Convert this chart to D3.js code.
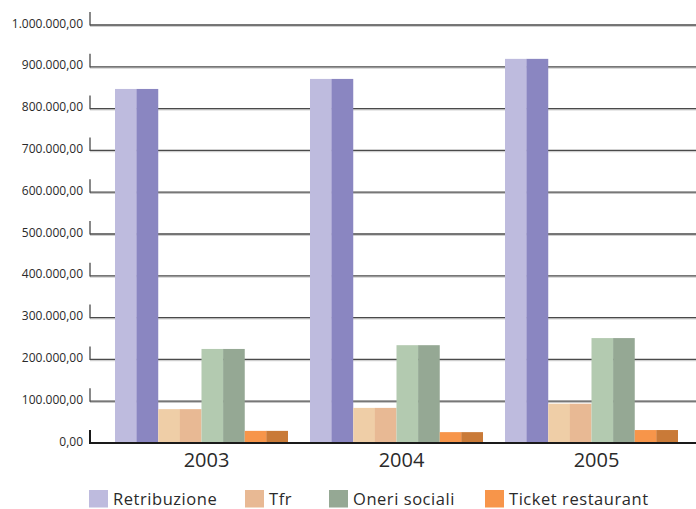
<!DOCTYPE html>
<html>
<head>
<meta charset="utf-8">
<script src="https://cdn.jsdelivr.net/npm/d3@7"></script>
<style>
  html, body { margin: 0; padding: 0; background: #fff; }
  svg { display: block; font-family: "Open Sans", "Noto Sans", sans-serif; }
</style>
</head>
<body>
<svg id="chart" width="696" height="509"></svg>
<script>
// Costo del personale per anno (euro)
const years = ["2003", "2004", "2005"];
const seriesNames = ["Retribuzione", "Tfr", "Oneri sociali", "Ticket restaurant"];
const retribuzione = [847000, 871000, 919000];
const tfr = [81000, 84000, 94000];
const oneriSociali = [225000, 234000, 251000];
const ticketRestaurant = [29000, 26000, 31000];
const yTickValues = [0, 100000, 200000, 300000, 400000, 500000, 600000, 700000, 800000, 900000, 1000000];

const seriesValues = [retribuzione, tfr, oneriSociali, ticketRestaurant];
// front face / side face of each bar
const frontColors = ["#bebbde", "#efcea7", "#b3cab0", "#f7954a"];
const sideColors  = ["#8a86c1", "#e8b994", "#95a894", "#c97a38"];
const legendColors = ["#bebbde", "#e8b994", "#95a894", "#f7954a"];

const svg = d3.select("#chart");
const W = 696;
const plotLeft = 90;

const itLocale = d3.formatLocale({ decimal: ",", thousands: ".", grouping: [3], currency: ["€", ""] });
const fmt = itLocale.format(",.2f");

const y = d3.scaleLinear().domain([0, 1000000]).range([443, 25]);

const x0 = d3.scaleBand().domain(years).range([104, 689])
  .paddingInner(22 / 195).paddingOuter(11 / 195);
const x1 = d3.scaleBand().domain(seriesNames).range([0, x0.bandwidth()]).padding(0);

// gridlines with a soft light edge under each
const grid = svg.append("g");
yTickValues.filter(v => v > 0).forEach(v => {
  const yy = y(v);
  grid.append("line").attr("x1", plotLeft).attr("x2", W).attr("y1", yy + 1.3).attr("y2", yy + 1.3)
    .attr("stroke", "#c4c4c4").attr("stroke-width", 1);
  grid.append("line").attr("x1", plotLeft).attr("x2", W).attr("y1", yy).attr("y2", yy)
    .attr("stroke", "#4a4a4a").attr("stroke-width", 1.3);
  grid.append("line").attr("x1", plotLeft).attr("x2", plotLeft).attr("y1", yy - 13).attr("y2", yy + 0.6)
    .attr("stroke", "#4a4a4a").attr("stroke-width", 1.3);
});

// tick labels
svg.append("g").selectAll("text").data(yTickValues).join("text")
  .attr("x", 83).attr("y", d => y(d) + 2.5)
  .attr("text-anchor", "end")
  .attr("font-size", 12)
  .attr("fill", "#2a2a2a")
  .text(d => fmt(d));

// bars: each drawn as a lighter front half and a darker side half
const groups = svg.append("g").selectAll("g").data(years).join("g")
  .attr("transform", d => `translate(${x0(d)},0)`);

groups.each(function(yr, yi) {
  const g = d3.select(this);
  seriesNames.forEach((name, si) => {
    const v = seriesValues[si][yi];
    const bx = x1(name);
    const bw = x1.bandwidth();
    const top = y(v);
    const h = y(0) - top;
    g.append("rect").attr("x", bx).attr("y", top).attr("width", bw / 2 + 0.3).attr("height", h)
      .attr("fill", frontColors[si]);
    g.append("rect").attr("x", bx + bw / 2).attr("y", top).attr("width", bw / 2).attr("height", h)
      .attr("fill", sideColors[si]);
  });
});

// baseline
svg.append("line").attr("x1", plotLeft).attr("x2", W).attr("y1", y(0)).attr("y2", y(0))
  .attr("stroke", "#1a1a1a").attr("stroke-width", 2);
svg.append("line").attr("x1", plotLeft).attr("x2", plotLeft).attr("y1", y(0) - 13).attr("y2", y(0) + 1)
  .attr("stroke", "#1a1a1a").attr("stroke-width", 2);

// year labels
svg.append("g").selectAll("text").data(years).join("text")
  .attr("x", d => x0(d) + x0.bandwidth() / 2 + 5)
  .attr("y", 467)
  .attr("text-anchor", "middle")
  .attr("font-size", 20)
  .attr("fill", "#2a2a2a")
  .text(d => d);

// legend
const legendX = [89, 245, 329, 485];
const legend = svg.append("g").selectAll("g").data(seriesNames).join("g")
  .attr("transform", (d, i) => `translate(${legendX[i]},490)`);
legend.append("rect").attr("width", 19).attr("height", 17.5).attr("fill", (d, i) => legendColors[i]);
legend.append("text").attr("x", 24).attr("y", 14.5).attr("font-size", 16.5)
  .attr("letter-spacing", 0.55).attr("fill", "#2a2a2a")
  .text(d => d);
</script>
</body>
</html>
